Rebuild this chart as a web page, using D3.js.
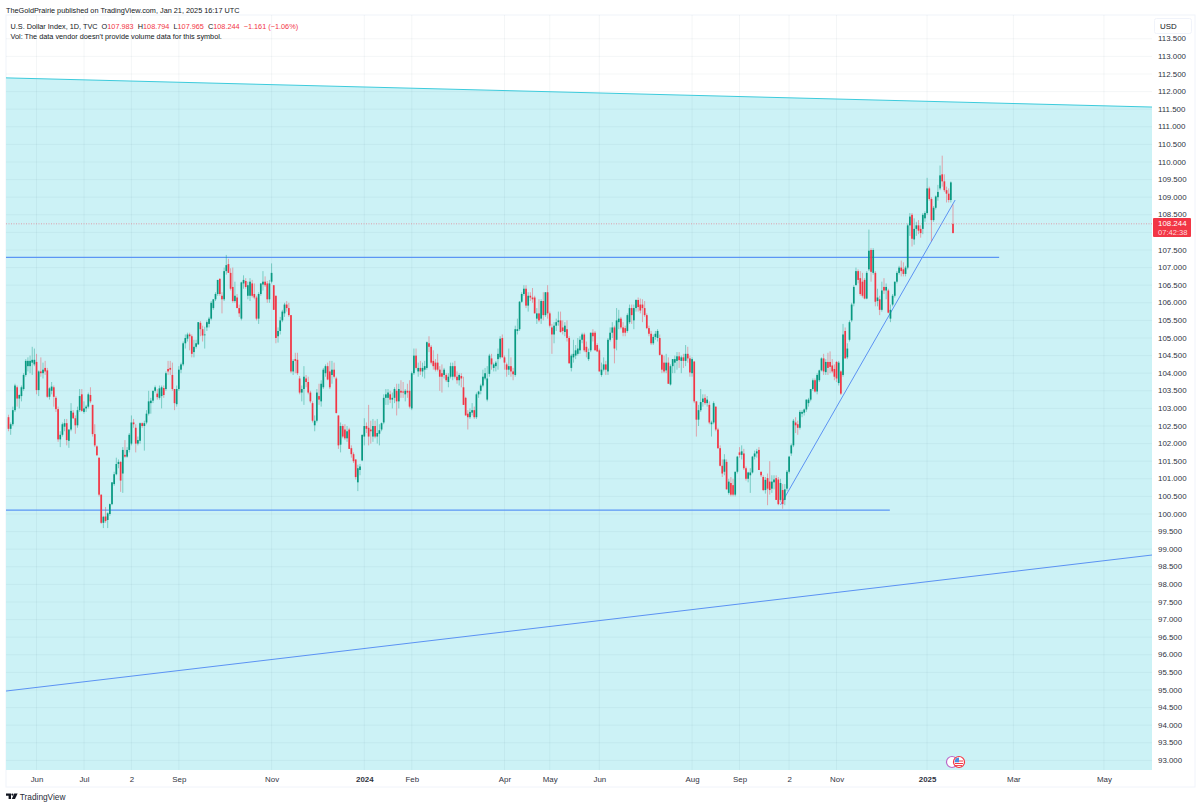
<!DOCTYPE html>
<html><head><meta charset="utf-8">
<style>html,body{margin:0;padding:0;background:#fff}svg{display:block}text{font-family:"Liberation Sans",Arial,sans-serif}</style>
<script src="https://cdn.jsdelivr.net/npm/d3@7"></script></head>
<body><svg id="c" width="1200" height="807"></svg>
<script>
const opens=[
102.75,102.42,102.55,102.95,103.6,103.28,103.35,103.55,103.95,104.2,
104.2,104.3,104.25,104.32,103.52,104.05,104.0,104.15,104.08,103.33,
103.5,103.6,103.3,102.98,102.12,102.25,102.48,102.58,102.08,102.4,
102.88,102.72,102.52,102.95,103.4,102.9,103.0,103.05,103.38,103.1,
102.27,101.92,101.6,100.55,99.75,99.93,99.83,100.0,100.28,100.85,
101.13,101.42,101.48,101.15,101.68,101.63,101.82,102.0,102.6,102.45,
102.0,102.08,102.58,102.5,102.6,102.85,103.15,103.22,103.5,103.42,
103.3,103.35,103.58,103.55,104.12,104.15,103.95,103.55,103.12,103.55,
104.1,104.25,104.85,104.98,105.1,105.05,104.6,104.75,104.82,105.43,
105.25,105.1,105.3,105.4,105.55,105.85,106.1,106.25,106.68,106.2,
106.1,106.9,107.1,106.85,106.45,106.05,106.15,105.85,105.55,106.55,
106.62,106.2,106.2,106.55,106.25,106.15,105.55,106.25,106.52,106.6,
106.55,106.1,106.6,106.5,106.2,105.05,105.2,105.5,105.7,105.95,
105.85,105.65,104.05,104.4,104.38,103.85,103.45,103.55,103.85,103.75,
103.45,103.15,102.52,102.65,103.35,103.2,103.6,104.0,104.2,104.05,
103.95,104.1,103.85,102.8,101.97,102.5,102.4,102.15,102.4,101.87,
101.7,101.55,100.9,101.25,101.52,102.2,102.5,102.45,102.4,102.2,
102.5,102.2,102.28,102.4,102.6,103.3,103.3,103.4,103.25,103.3,
103.5,103.2,103.5,103.48,103.4,103.5,103.5,103.0,104.0,104.5,
104.05,104.15,104.05,104.1,104.15,104.85,104.75,104.35,104.3,104.3,
104.1,104.0,103.95,103.95,103.75,103.9,103.9,104.2,103.9,103.8,
103.92,103.6,103.3,102.85,102.75,102.88,102.95,102.75,103.4,103.5,
103.65,103.85,103.25,103.98,104.42,104.15,104.2,104.4,104.45,105.0,
104.45,104.25,104.1,104.2,104.05,103.95,105.2,105.25,106.03,106.25,
106.4,105.92,106.2,106.15,106.15,105.55,105.7,105.55,106.05,105.65,
106.3,105.7,105.3,105.1,105.35,105.45,105.5,105.3,105.17,105.25,
105.0,104.15,104.45,104.5,104.55,104.65,104.95,105.1,104.75,104.4,
104.65,105.15,105.15,104.8,104.65,103.95,104.1,104.25,104.05,104.95,
105.15,105.3,104.95,105.45,105.55,105.3,105.28,105.2,105.45,105.85,
105.5,105.85,106.08,105.95,105.95,105.85,105.65,105.28,105.12,104.85,
105.03,105.0,105.0,104.52,104.3,104.08,104.3,103.68,104.2,104.3,
104.35,104.48,104.35,104.45,104.35,104.55,104.42,104.0,104.33,103.2,
102.68,102.95,103.18,103.3,103.15,103.1,102.55,102.6,103.05,102.4,
101.87,101.37,101.2,101.48,100.6,100.88,100.82,100.55,101.2,101.75,
101.68,101.72,101.3,101.0,101.1,101.18,101.63,101.72,101.82,101.2,
101.05,100.68,101.02,100.92,100.72,100.9,101.02,100.98,100.4,100.68,
100.4,100.72,101.2,101.72,101.95,102.6,102.55,102.45,102.85,102.88,
102.97,103.15,103.25,103.55,103.8,103.48,103.8,104.08,104.42,104.03,
104.32,104.32,104.22,104.12,104.32,103.72,104.05,103.95,105.2,104.45,
104.95,105.5,105.98,106.5,106.9,106.7,106.6,106.65,106.12,106.95,
107.5,106.85,106.85,106.05,106.1,105.8,106.45,106.35,106.35,105.55,
105.95,106.2,106.6,106.85,107.0,106.95,106.82,107.0,108.2,108.5,
107.8,108.1,108.2,108.1,108.1,108.4,108.55,109.25,108.95,108.35,
108.7,109.0,109.25,109.65,109.45,109.2,109.1,108.92,108.244];
const highs=[
102.82,102.6,103.05,103.7,103.65,103.4,103.65,104.0,104.4,104.45,
104.5,104.75,104.7,104.55,104.08,104.45,104.3,104.35,104.15,103.6,
103.75,103.65,103.35,103.05,102.35,102.6,102.7,102.7,102.4,103.15,
102.95,102.8,103.05,103.55,103.55,103.2,103.1,103.45,103.6,103.1,
102.55,101.95,101.6,100.55,99.95,100.2,100.05,100.3,100.9,101.2,
101.6,101.55,101.5,101.9,102.1,101.9,102.3,102.8,102.7,102.55,
102.2,102.6,102.6,102.65,102.95,103.5,103.3,103.5,103.65,103.55,
103.65,103.65,103.65,104.05,104.35,104.35,104.3,103.55,103.65,104.2,
104.3,104.9,105.1,105.15,105.15,105.1,104.95,104.95,105.45,105.48,
105.35,105.32,105.5,105.6,106.05,106.1,106.3,106.65,106.7,106.3,
107.0,107.36,107.25,106.98,107.0,106.6,106.25,105.95,106.6,106.78,
106.7,106.6,106.7,106.65,106.55,106.2,106.3,106.55,106.9,106.75,
106.62,106.65,107.12,106.5,106.2,105.3,105.6,105.8,106.0,106.05,
106.0,105.65,104.4,104.58,104.58,103.92,103.65,104.2,103.95,103.9,
103.5,103.2,102.8,103.55,103.7,103.8,104.15,104.25,104.3,104.35,
104.35,104.3,103.9,102.8,102.6,102.55,102.55,102.5,102.45,101.95,
101.75,101.55,101.4,101.42,102.25,102.72,102.6,103.1,102.65,102.7,
102.65,102.7,102.55,102.6,103.4,103.55,103.55,103.5,103.45,103.6,
103.7,103.7,103.8,103.75,103.55,103.7,103.8,104.05,104.7,104.7,
104.3,104.35,104.3,104.35,104.9,105.05,104.8,104.65,104.4,104.55,
104.2,104.25,104.15,104.0,104.0,104.3,104.3,104.35,104.05,104.0,
104.0,103.9,103.33,102.95,103.0,103.15,103.05,103.45,103.5,103.7,
104.1,104.15,104.2,104.55,104.55,104.3,104.35,104.7,105.05,105.1,
104.5,104.3,104.7,104.45,104.15,105.35,105.55,106.05,106.3,106.5,
106.5,106.3,106.3,106.42,106.2,105.85,106.1,106.1,106.3,106.3,
106.5,105.75,105.4,105.45,105.55,105.75,105.75,105.5,105.45,105.5,
105.05,104.55,104.95,104.8,105.0,105.05,105.15,105.15,104.9,104.7,
105.15,105.25,105.2,104.85,104.7,104.3,104.45,104.35,105.0,105.3,
105.45,105.35,105.85,105.8,105.6,105.45,105.35,105.7,105.95,105.95,
105.95,106.1,106.15,106.12,106.1,106.05,105.7,105.35,105.2,105.1,
105.2,105.25,105.1,104.55,104.5,104.55,104.45,104.25,104.4,104.5,
104.6,104.6,104.5,104.55,104.8,104.75,104.5,104.45,104.35,103.2,
103.1,103.55,103.4,103.4,103.35,103.2,102.65,103.2,103.05,102.45,
101.95,101.55,101.7,101.55,101.0,101.05,101.0,101.2,101.65,101.9,
101.95,101.85,101.35,101.2,101.3,101.65,101.8,101.85,101.9,101.2,
101.1,101.05,101.15,101.5,101.1,101.1,101.1,101.05,101.0,100.85,
100.85,101.25,101.65,102.0,102.7,102.75,102.65,102.95,102.95,103.0,
103.25,103.3,103.55,103.85,103.85,104.0,104.1,104.45,104.55,104.4,
104.58,104.62,104.4,104.25,104.35,104.35,104.08,105.4,105.3,104.85,
105.5,106.0,106.5,107.0,106.95,106.9,106.85,106.7,106.9,108.08,
107.55,107.55,106.9,106.4,106.2,106.6,106.7,106.55,106.4,105.95,
106.25,106.6,106.9,107.05,107.2,107.15,107.05,108.25,108.55,108.55,
108.4,108.3,108.35,108.2,108.55,108.6,109.55,109.3,109.0,108.75,
109.05,109.35,109.9,110.18,109.65,109.3,109.25,109.45,108.794];
const lows=[
102.35,102.25,102.5,102.9,103.05,103.0,103.2,103.5,103.9,104.05,
104.0,103.95,104.2,103.4,103.35,103.9,103.85,103.95,103.3,103.25,
103.4,103.05,102.9,102.05,101.9,102.2,102.35,101.95,101.88,102.35,
102.7,102.28,102.45,102.9,102.9,102.85,102.9,103.0,103.15,102.2,
101.9,101.65,100.5,99.72,99.6,99.75,99.6,99.95,100.25,100.8,
101.1,101.3,100.63,100.6,101.6,101.6,101.75,101.95,102.45,101.75,
101.95,102.0,102.45,101.8,102.55,102.8,102.85,103.15,103.45,103.25,
103.25,103.0,103.3,103.5,103.95,103.95,103.5,102.95,103.05,103.5,
104.0,104.2,104.7,104.9,104.65,104.45,104.45,104.7,104.8,105.05,
104.9,104.7,105.2,105.3,105.5,105.8,106.05,106.2,106.2,105.7,
106.05,106.8,106.85,106.35,106.0,106.0,105.85,105.6,105.5,106.4,
106.4,106.1,106.05,106.15,106.1,105.5,105.4,106.2,106.35,106.45,
106.0,106.0,106.55,105.8,104.85,104.87,105.1,105.45,105.6,105.75,
105.6,104.0,103.95,104.0,103.95,103.4,103.2,103.1,103.6,103.4,
103.15,102.6,102.35,102.6,103.1,103.05,103.55,103.9,103.8,103.55,
103.7,103.85,102.85,101.85,101.75,102.15,102.1,102.05,101.85,101.6,
101.45,100.98,100.65,101.1,101.5,101.95,102.3,101.95,102.0,102.05,
102.15,102.0,101.95,102.35,102.55,103.1,103.1,103.15,103.0,103.15,
102.8,103.0,103.3,103.3,103.2,103.3,103.0,102.95,103.95,104.1,
103.9,103.95,103.9,103.85,104.1,104.6,104.25,104.1,104.05,104.05,
103.5,103.45,103.85,103.75,103.6,103.85,103.8,103.85,103.7,103.65,
103.6,103.1,102.8,102.4,102.7,102.8,102.7,102.7,103.3,103.4,
103.6,103.8,103.2,103.9,104.1,104.05,104.05,104.1,104.4,104.45,
104.1,103.9,103.95,103.9,103.8,103.9,105.1,105.2,106.0,106.2,
105.85,105.75,106.05,106.0,105.7,105.4,105.45,105.4,105.5,105.6,
105.55,105.3,104.55,104.85,105.2,105.35,105.15,105.1,105.05,104.9,
104.28,104.05,104.3,104.4,104.5,104.55,104.85,104.6,104.45,104.35,
104.6,104.9,104.65,104.6,104.05,103.9,104.05,103.95,103.95,104.9,
105.0,104.28,104.65,105.25,105.25,105.05,105.05,105.15,105.4,105.4,
105.25,105.75,105.75,105.7,105.45,105.6,105.25,105.05,104.8,104.8,
104.95,104.9,104.5,104.0,104.0,104.0,103.7,103.65,104.0,104.0,
104.1,104.15,104.0,104.15,104.2,104.3,103.9,103.9,103.15,102.2,
102.5,102.9,103.05,103.1,103.05,102.55,102.2,102.55,102.35,101.85,
101.35,101.05,101.1,100.7,100.55,100.5,100.5,100.5,101.15,101.6,
101.55,101.25,100.95,100.9,100.6,101.15,101.55,101.6,101.25,101.05,
100.65,100.58,100.25,100.55,100.6,100.7,100.4,100.25,100.35,100.15,
100.25,100.65,101.15,101.65,101.9,102.3,102.25,102.4,102.75,102.8,
102.9,103.05,103.2,103.5,103.45,103.4,103.75,104.05,103.95,103.95,
103.95,104.0,104.0,103.8,103.75,103.65,103.38,103.9,104.42,104.4,
104.9,105.45,105.9,106.5,106.55,106.2,106.15,106.1,106.1,106.9,
106.6,106.8,105.9,105.9,105.65,105.75,106.25,106.1,105.7,105.45,
105.9,106.15,106.55,106.8,106.75,106.75,106.75,106.95,107.9,107.6,
107.65,107.9,107.95,107.85,107.95,108.3,108.5,108.9,107.75,108.3,
108.65,108.9,109.2,109.3,109.15,108.85,108.85,108.85,107.965];
const closes=[
102.42,102.55,102.95,103.65,103.28,103.38,103.6,103.95,104.35,104.35,
104.35,104.38,104.38,103.52,104.05,104.0,104.1,104.05,103.33,103.57,
103.62,103.33,102.98,102.12,102.25,102.55,102.58,102.1,102.4,102.93,
102.72,102.52,102.95,103.35,102.93,103.0,103.05,103.4,103.2,102.27,
101.95,101.67,100.55,99.75,99.92,99.8,100.02,100.28,100.9,101.13,
101.42,101.48,100.95,101.82,101.63,101.82,102.25,102.6,102.55,102.0,
102.1,102.58,102.5,102.58,102.85,103.2,103.22,103.5,103.6,103.32,
103.57,103.6,103.38,104.0,104.05,104.1,103.55,103.15,103.55,104.1,
104.25,104.85,105.0,105.1,105.05,104.55,104.75,104.85,105.45,105.25,
105.07,105.1,105.45,105.55,106.0,106.1,106.25,106.65,106.25,106.1,
106.9,107.07,106.85,106.4,106.05,106.2,105.85,105.7,106.58,106.65,
106.45,106.5,106.6,106.2,106.15,105.55,106.25,106.55,106.6,106.5,
106.1,106.55,106.85,105.8,105.0,105.2,105.5,105.75,105.95,105.85,
105.65,104.05,104.35,104.35,104.0,103.45,103.55,103.9,103.75,103.45,
103.2,102.65,102.65,103.45,103.25,103.7,104.1,104.2,103.82,103.6,
104.1,103.9,102.87,101.95,102.5,102.2,102.15,102.35,101.85,101.7,
101.5,101.05,101.3,101.35,102.25,102.5,102.42,102.2,102.35,102.5,
102.2,102.3,102.38,102.58,103.3,103.4,103.45,103.25,103.3,103.55,
103.2,103.55,103.45,103.45,103.5,103.45,103.05,104.0,104.5,104.15,
104.15,104.05,104.15,104.2,104.88,104.75,104.3,104.2,104.1,104.1,
103.9,103.9,104.1,103.8,103.9,104.2,104.2,103.9,103.8,103.95,
103.85,103.1,102.8,102.75,102.9,102.95,102.75,103.4,103.48,103.65,
103.9,104.0,103.85,104.5,104.25,104.25,104.3,104.55,104.98,104.45,
104.3,104.1,104.2,104.05,103.97,105.25,105.25,106.03,106.25,106.4,
105.92,106.2,106.15,106.1,105.7,105.7,105.5,106.05,105.65,106.3,
105.7,105.35,105.1,105.35,105.45,105.5,105.17,105.2,105.35,105.0,
104.28,104.5,104.55,104.65,104.7,104.95,105.1,104.65,104.6,104.6,
105.15,105.05,104.65,104.62,104.05,104.1,104.25,104.1,104.95,105.15,
105.3,104.7,105.5,105.55,105.3,105.15,105.15,105.65,105.85,105.65,
105.85,106.08,105.88,105.78,105.85,105.65,105.28,105.12,104.85,105.03,
105.12,105.2,104.52,104.1,104.05,104.3,103.7,104.2,104.4,104.4,
104.48,104.37,104.45,104.35,104.55,104.42,104.02,104.4,103.2,102.68,
102.95,103.18,103.28,103.15,103.25,102.6,102.6,103.15,102.4,101.87,
101.37,101.15,101.55,100.7,100.92,100.55,100.55,101.2,101.63,101.68,
101.78,101.3,101.0,101.18,101.18,101.63,101.72,101.78,101.25,101.1,
100.68,100.97,100.72,100.68,100.92,100.98,100.4,100.28,100.88,100.28,
100.7,101.2,101.63,101.95,102.65,102.52,102.45,102.9,102.9,102.97,
103.25,103.25,103.55,103.8,103.48,103.95,104.08,104.42,104.05,104.32,
104.15,104.18,104.05,103.9,103.85,104.3,103.42,105.1,104.42,104.7,
105.45,105.95,106.45,106.9,106.65,106.25,106.2,106.12,106.85,107.48,
106.88,107.5,106.03,106.15,105.8,106.35,106.35,106.45,105.72,105.8,
106.2,106.6,106.85,107.0,106.9,106.82,107.0,108.2,108.45,107.82,
108.1,108.2,108.05,107.98,108.5,108.55,109.25,108.95,108.35,108.7,
109.02,109.15,109.62,109.45,109.2,109.1,108.92,109.42,107.983];

const priceTicks=[93,93.5,94,94.5,95,95.5,96,96.5,97,97.5,98,98.5,99,99.5,100,100.5,101,101.5,102,102.5,103,103.5,104,104.5,105,105.5,106,106.5,107,107.5,108,108.5,109,109.5,110,110.5,111,111.5,112,112.5,113,113.5];
const timeTickIndex=[13,35,57,79,122,165,187,230,251,274,317,339,362,384,426,466,508];
const timeTickLabels=["Jun","Jul","2","Sep","Nov","2024","Feb","Apr","May","Jun","Aug","Sep","2","Nov","2025","Mar","May"];
const boldLabels=["2024","2025"];
const channelTop=[[-1.2,112.39],[531,111.56]];
const channelBottom=[[-1.2,94.97],[531,98.84]];
const resistance=[[-1.2,107.29],[459.4,107.29]];
const support=[[-1.2,100.11],[408.7,100.11]];
const uptrend=[[358,100.26],[439,108.92]];
const lastPrice=108.244, countdown="07:42:38";

const L=6,R=1152,T=15,B=770;
const x=d3.scaleLinear().domain([0,438]).range([8.5,953]);
const y=d3.scaleLinear().domain([100,110]).range([514,162]);
const svg=d3.select("#c");
const defs=svg.append("defs");
defs.append("clipPath").attr("id","plot").append("rect").attr("x",L).attr("y",T).attr("width",R-L).attr("height",B-T);

// frame
svg.append("rect").attr("x",L).attr("y",T).attr("width",1189).attr("height",772).attr("fill","#fff").attr("stroke","#f0f3fa");
const g=svg.append("g").attr("clip-path","url(#plot)");
const line=d3.line().x(d=>x(d[0])).y(d=>y(d[1]));

// channel fill down to the chart bottom
const yBottom=y.invert(B+2);
g.append("path").attr("d",line([channelTop[0],channelTop[1],[channelTop[1][0],yBottom],[channelTop[0][0],yBottom]])+"Z")
 .attr("fill","#ccf2f6");

// grid
const gridC="rgba(30,80,100,0.05)";
g.append("g").selectAll("line").data(priceTicks).join("line").attr("x1",L).attr("x2",R)
 .attr("y1",d=>y(d)).attr("y2",d=>y(d)).attr("stroke",gridC);
g.append("g").selectAll("line").data(timeTickIndex).join("line").attr("y1",T).attr("y2",B)
 .attr("x1",d=>x(d)).attr("x2",d=>x(d)).attr("stroke",gridC);

// drawings
g.append("path").attr("d",line(channelTop)).attr("fill","none").attr("stroke","#3dcbdc").attr("stroke-width",1);
[channelBottom,uptrend].forEach(p=>
 g.append("path").attr("d",line(p)).attr("fill","none").attr("stroke","#5b92f3").attr("stroke-width",1));
[resistance,support].forEach(p=>
 g.append("path").attr("d",line(p)).attr("fill","none").attr("stroke","#5b96f5").attr("stroke-width",1.2));

// last price dotted line
g.append("line").attr("x1",L).attr("x2",R).attr("y1",y(lastPrice)).attr("y2",y(lastPrice))
 .attr("stroke","#e9697a").attr("stroke-opacity",.6).attr("stroke-dasharray","1 1.5").attr("stroke-width",1);

// candles
const bars=closes.map((c,i)=>({i,o:opens[i],h:highs[i],l:lows[i],c}));
const red="#f23645",green="#089981";
const col=d=>d.c>=d.o?green:red;
g.append("g").selectAll("line").data(bars).join("line")
 .attr("x1",d=>x(d.i)).attr("x2",d=>x(d.i)).attr("y1",d=>y(d.h)).attr("y2",d=>y(d.l))
 .attr("stroke",col).attr("stroke-opacity",.42).attr("stroke-width",1);
g.append("g").selectAll("rect").data(bars).join("rect")
 .attr("x",d=>x(d.i)-.85).attr("width",1.7)
 .attr("y",d=>y(Math.max(d.o,d.c))).attr("height",d=>Math.max(.8,Math.abs(y(d.o)-y(d.c))))
 .attr("fill",col);

// axes
const axisFont='"Liberation Sans",Arial,sans-serif';
const yAxis=d3.axisRight(y).tickValues(priceTicks).tickFormat(d3.format(".3f")).tickSize(0).tickPadding(6);
const ya=svg.append("g").attr("transform",`translate(${R},-0.5)`).call(yAxis);
ya.select(".domain").remove();
ya.selectAll("text").attr("font-size",7.9).attr("font-family",axisFont).attr("fill","#30343f");
const xAxis=d3.axisBottom(x).tickValues(timeTickIndex).tickFormat((d,i)=>timeTickLabels[i]).tickSize(0).tickPadding(6);
const xa=svg.append("g").attr("transform",`translate(0,${B})`).call(xAxis);
xa.select(".domain").remove();
xa.selectAll("text").attr("font-size",7.9).attr("font-family",axisFont).attr("fill","#30343f")
 .attr("font-weight",(d,i)=>boldLabels.includes(timeTickLabels[i])?700:400);

// USD box
svg.append("rect").attr("x",1154.5).attr("y",18.5).attr("width",37).attr("height",15).attr("rx",2).attr("fill","#fff").attr("stroke","#f0f3fa");
svg.append("text").attr("x",1160).attr("y",28.5).attr("font-size",7.9).attr("fill","#131722").text("USD");

// price label
svg.append("rect").attr("x",1153).attr("y",218).attr("width",38).attr("height",19).attr("rx",1).attr("fill",red);
svg.append("text").attr("x",1158).attr("y",226).attr("font-size",7.9).attr("fill","#fff").text(d3.format(".3f")(lastPrice));
svg.append("text").attr("x",1158).attr("y",234.5).attr("font-size",7.6).attr("fill","#ffd9dd").text(countdown);

// header
svg.append("text").attr("x",6).attr("y",12.8).attr("font-size",7.3).attr("fill","#131722")
 .text("TheGoldPrairie published on TradingView.com, Jan 21, 2025 16:17 UTC");
const h=svg.append("text").attr("x",10.5).attr("y",28.5).attr("font-size",7.3).attr("fill","#131722").attr("xml:space","preserve");
[["U.S. Dollar Index, 1D, TVC  O",0],["107.983",1],["  H",0],["108.794",1],["  L",0],["107.965",1],["  C",0],["108.244",1],["  −1.161 (−1.06%)",1]]
 .forEach(([t,r])=>h.append("tspan").attr("fill",r?red:"#131722").text(t));
svg.append("text").attr("x",10.5).attr("y",39).attr("font-size",7.3).attr("fill","#131722")
 .text("Vol: The data vendor doesn't provide volume data for this symbol.");

// event markers
const ev=svg.append("g").attr("transform","translate(0,762)");
ev.append("circle").attr("cx",952).attr("r",5.5).attr("fill","#fff").attr("stroke","#ba68c8").attr("stroke-width",1.2);
ev.append("circle").attr("cx",959).attr("r",5.5).attr("fill","#fff").attr("stroke","#f23645").attr("stroke-width",1.2);
ev.append("rect").attr("x",955).attr("y",1).attr("width",8).attr("height",1).attr("fill","#f23645");
ev.append("rect").attr("x",955).attr("y",3).attr("width",7).attr("height",.9).attr("fill","#f23645");
ev.append("path").attr("d","M954.7 0.3V-1a4.4 4.4 0 0 1 4.3 -3.4V0.3Z").attr("fill","#4a90e2");
ev.append("rect").attr("x",959).attr("y",-1.5).attr("width",4).attr("height",1).attr("fill","#f23645");

// logo
const lg=svg.append("g").attr("transform","translate(6,793.5)").attr("fill","#131722");
lg.append("path").attr("d","M0 0H5V5.5H2.6V2.2H0Z");
lg.append("circle").attr("cx",6.4).attr("cy",1.1).attr("r",1.1);
lg.append("path").attr("d","M8.2 0H11.6L9 5.5H5.8Z");
svg.append("text").attr("x",19.8).attr("y",800).attr("font-size",8.3).attr("fill","#2a2e39").text("TradingView");
</script></body></html>
